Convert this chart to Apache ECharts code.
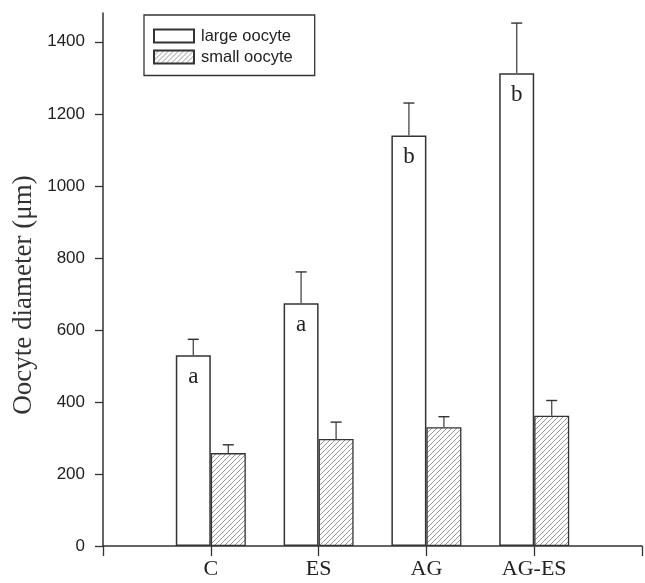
<!DOCTYPE html>
<html>
<head>
<meta charset="utf-8">
<script src="https://cdn.jsdelivr.net/npm/echarts@6/dist/echarts.min.js"></script>
<style>
html,body{margin:0;padding:0;background:#fff;}
#chart{width:645px;height:583px;}
</style>
</head>
<body>
<div id="chart"></div>
<script>
const categories = ['C', 'ES', 'AG', 'AG-ES'];
const largeMean = [530, 674, 1140, 1313];
const largeSE = [44, 87, 90, 139];
const smallMean = [258, 297, 330, 362];
const smallSE = [23, 47, 29, 42];
const letters = ['a', 'a', 'b', 'b'];
const yTicks = [0, 200, 400, 600, 800, 1000, 1200, 1400];
const seriesNames = ['large oocyte', 'small oocyte'];

const axisCats = [''].concat(categories, ['']);
function pad(arr) { return ['-'].concat(arr, ['-']); }

// hatch pattern
const tile = document.createElement('canvas');
tile.width = 5; tile.height = 5;
const c = tile.getContext('2d');
c.fillStyle = '#fff'; c.fillRect(0, 0, 5, 5);
c.strokeStyle = '#8a8a8a'; c.lineWidth = 0.9;
c.beginPath();
c.moveTo(0, 5); c.lineTo(5, 0);
c.moveTo(-1, 1); c.lineTo(1, -1);
c.moveTo(4, 6); c.lineTo(6, 4);
c.stroke();
const hatch = { image: tile, repeat: 'repeat' };

const BAR_W = 35;
function errData(means, ses) {
  return means.map((m, i) => [i + 1, m, m + ses[i]]);
}
function errRender(offset) {
  return function (params, api) {
    const base = api.coord([api.value(0), api.value(1)]);
    const top = api.coord([api.value(0), api.value(2)]);
    const x = base[0] + offset;
    return {
      type: 'group',
      children: [
        { type: 'line', shape: { x1: x, y1: base[1], x2: x, y2: top[1] },
          style: { stroke: '#555', lineWidth: 1.4 } },
        { type: 'line', shape: { x1: x - 5.5, y1: top[1], x2: x + 5.5, y2: top[1] },
          style: { stroke: '#333', lineWidth: 1.4 } }
      ]
    };
  };
}

const chart = echarts.init(document.getElementById('chart'), null, { renderer: 'canvas' });
chart.setOption({
  animation: false,
  backgroundColor: '#fff',
  grid: { left: 103, right: 3, top: 13, bottom: 37, containLabel: false },
  legend: {
    orient: 'vertical',
    left: 144, top: 15,
    padding: [12.5, 22, 10, 9],
    itemWidth: 40, itemHeight: 13, itemGap: 4,
    borderColor: '#333', borderWidth: 1.3,
    icon: 'rect',
    textStyle: { fontFamily: 'Liberation Sans, Arial, sans-serif', fontSize: 16.5, color: '#222', padding: [0, 0, 0, 2] },
    data: seriesNames
  },
  xAxis: {
    type: 'category',
    data: axisCats,
    boundaryGap: false,
    axisLine: { lineStyle: { color: '#333', width: 1.5 } },
    axisTick: { show: true, interval: 0, length: 10, lineStyle: { color: '#333', width: 1.3 } },
    axisLabel: { interval: 0, margin: 12, fontFamily: 'Liberation Serif, Times New Roman, serif', fontSize: 22, color: '#222' },
    splitLine: { show: false }
  },
  yAxis: {
    type: 'value',
    min: 0, max: 1480,
    axisLine: { show: true, lineStyle: { color: '#333', width: 1.5 } },
    axisTick: { show: true, length: 8, customValues: yTicks, lineStyle: { color: '#333', width: 1.3 } },
    axisLabel: { customValues: yTicks, margin: 18, formatter: v => String(v),
      fontFamily: 'Liberation Sans, Arial, sans-serif', fontSize: 17, color: '#222' },
    splitLine: { show: false }
  },
  graphic: [{
    type: 'text',
    x: 24, y: 295,
    rotation: Math.PI / 2,
    style: {
      text: 'Oocyte diameter (μm)',
      font: '27px "Liberation Serif", "Times New Roman", serif',
      fill: '#333',
      align: 'center',
      verticalAlign: 'middle'
    }
  }],
  series: [
    {
      name: seriesNames[0], type: 'bar', data: pad(largeMean),
      barWidth: BAR_W, barGap: '0%',
      itemStyle: { color: '#fff', borderColor: '#333', borderWidth: 1.5 },
      label: {
        show: true, position: 'insideTop', distance: 10,
        fontFamily: 'Liberation Serif, Times New Roman, serif', fontSize: 23, color: '#222',
        formatter: p => letters[p.dataIndex - 1] || ''
      },
      z: 2
    },
    {
      name: seriesNames[1], type: 'bar', data: pad(smallMean),
      barWidth: BAR_W, barGap: '0%',
      itemStyle: { color: hatch, borderColor: '#333', borderWidth: 1.3 },
      z: 2
    },
    {
      type: 'custom', renderItem: errRender(-BAR_W / 2), data: errData(largeMean, largeSE),
      encode: { x: 0, y: [1, 2] }, z: 3, silent: true
    },
    {
      type: 'custom', renderItem: errRender(BAR_W / 2), data: errData(smallMean, smallSE),
      encode: { x: 0, y: [1, 2] }, z: 3, silent: true
    }
  ]
});
</script>
</body>
</html>
